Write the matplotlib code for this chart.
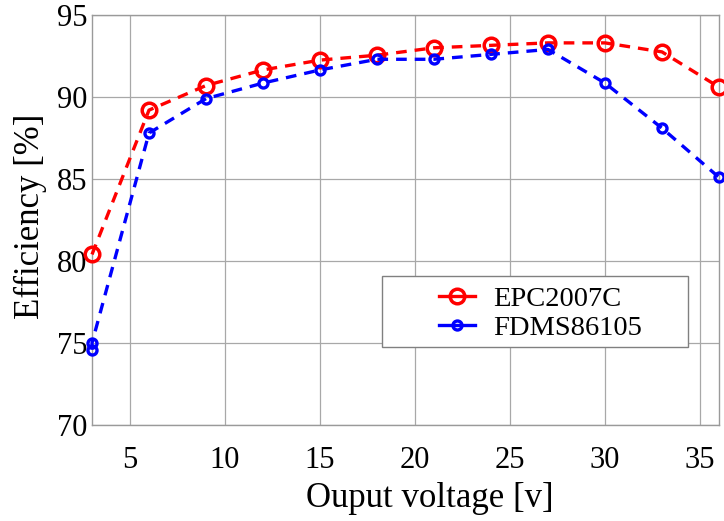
import matplotlib
matplotlib.use("Agg")
import matplotlib.pyplot as plt
from matplotlib.patches import Rectangle

plt.rcParams['font.family'] = ['Liberation Serif', 'DejaVu Serif']

x_red = [3, 6, 9, 12, 15, 18, 21, 24, 27, 30, 33, 36]
y_red = [80.4, 89.2, 90.7, 91.65, 92.25, 92.55, 93.0, 93.15, 93.3, 93.3, 92.75, 90.6]
x_blue = [3, 3, 6, 9, 12, 15, 18, 21, 24, 27, 30, 33, 36]
y_blue = [74.6, 75.0, 87.8, 89.9, 90.85, 91.65, 92.3, 92.3, 92.6, 92.9, 90.85, 88.1, 85.1]
labels = ["EPC2007C", "FDMS86105"]
xticks = [5, 10, 15, 20, 25, 30, 35]
yticks = [70, 75, 80, 85, 90, 95]

fig = plt.figure(figsize=(7.24, 5.21), dpi=100)
ax = fig.add_axes([92 / 724, 96 / 521, 627 / 724, 410 / 521])

ax.plot(x_red, y_red, linestyle=(0, (3.2, 2.4)), color='red', linewidth=2.4,
        marker='o', markersize=10.5, markerfacecolor='none', markeredgewidth=2.5,
        label=labels[0], clip_on=False, zorder=3)
ax.plot(x_blue, y_blue, linestyle=(0, (3.2, 2.4)), color='blue', linewidth=2.4,
        marker='o', markersize=6.5, markerfacecolor='none', markeredgewidth=2.4,
        label=labels[1], clip_on=False, zorder=3)

ax.set_xlim(3, 36)
ax.set_ylim(70, 95)
ax.set_xticks(xticks)
ax.set_yticks(yticks)
ax.tick_params(length=0, labelsize=22)
ax.tick_params(axis='x', pad=15)
ax.tick_params(axis='y', pad=3.5)
ax.grid(True, color='#a8a8a8', linewidth=0.9)
ax.set_axisbelow(True)
for s in ax.spines.values():
    s.set_color('#9a9a9a')
    s.set_linewidth(1.0)

ax.set_xlabel("Ouput voltage [v]", fontsize=25)
ax.set_ylabel("Efficiency [%]", fontsize=25)
ax.xaxis.set_label_coords(0.538, -0.14)
ax.yaxis.set_label_coords(-0.072, 0.509)

# legend frame drawn as a box (wide padding as in reference)
frame = Rectangle((0.4618, 0.190), 0.4888, 0.173, transform=ax.transAxes,
                  facecolor='white', edgecolor='#808080', linewidth=1.0, zorder=4)
ax.add_patch(frame)
leg = ax.legend(loc='center', bbox_to_anchor=(0.716, 0.272), fontsize=20.5,
                frameon=False, handlelength=1.25, handletextpad=0.65,
                borderpad=0.0, labelspacing=0.12, borderaxespad=0)
leg.set_zorder(5)
for h in leg.legend_handles:
    h.set_linestyle('-')

fig.savefig("out.png", dpi=100)
